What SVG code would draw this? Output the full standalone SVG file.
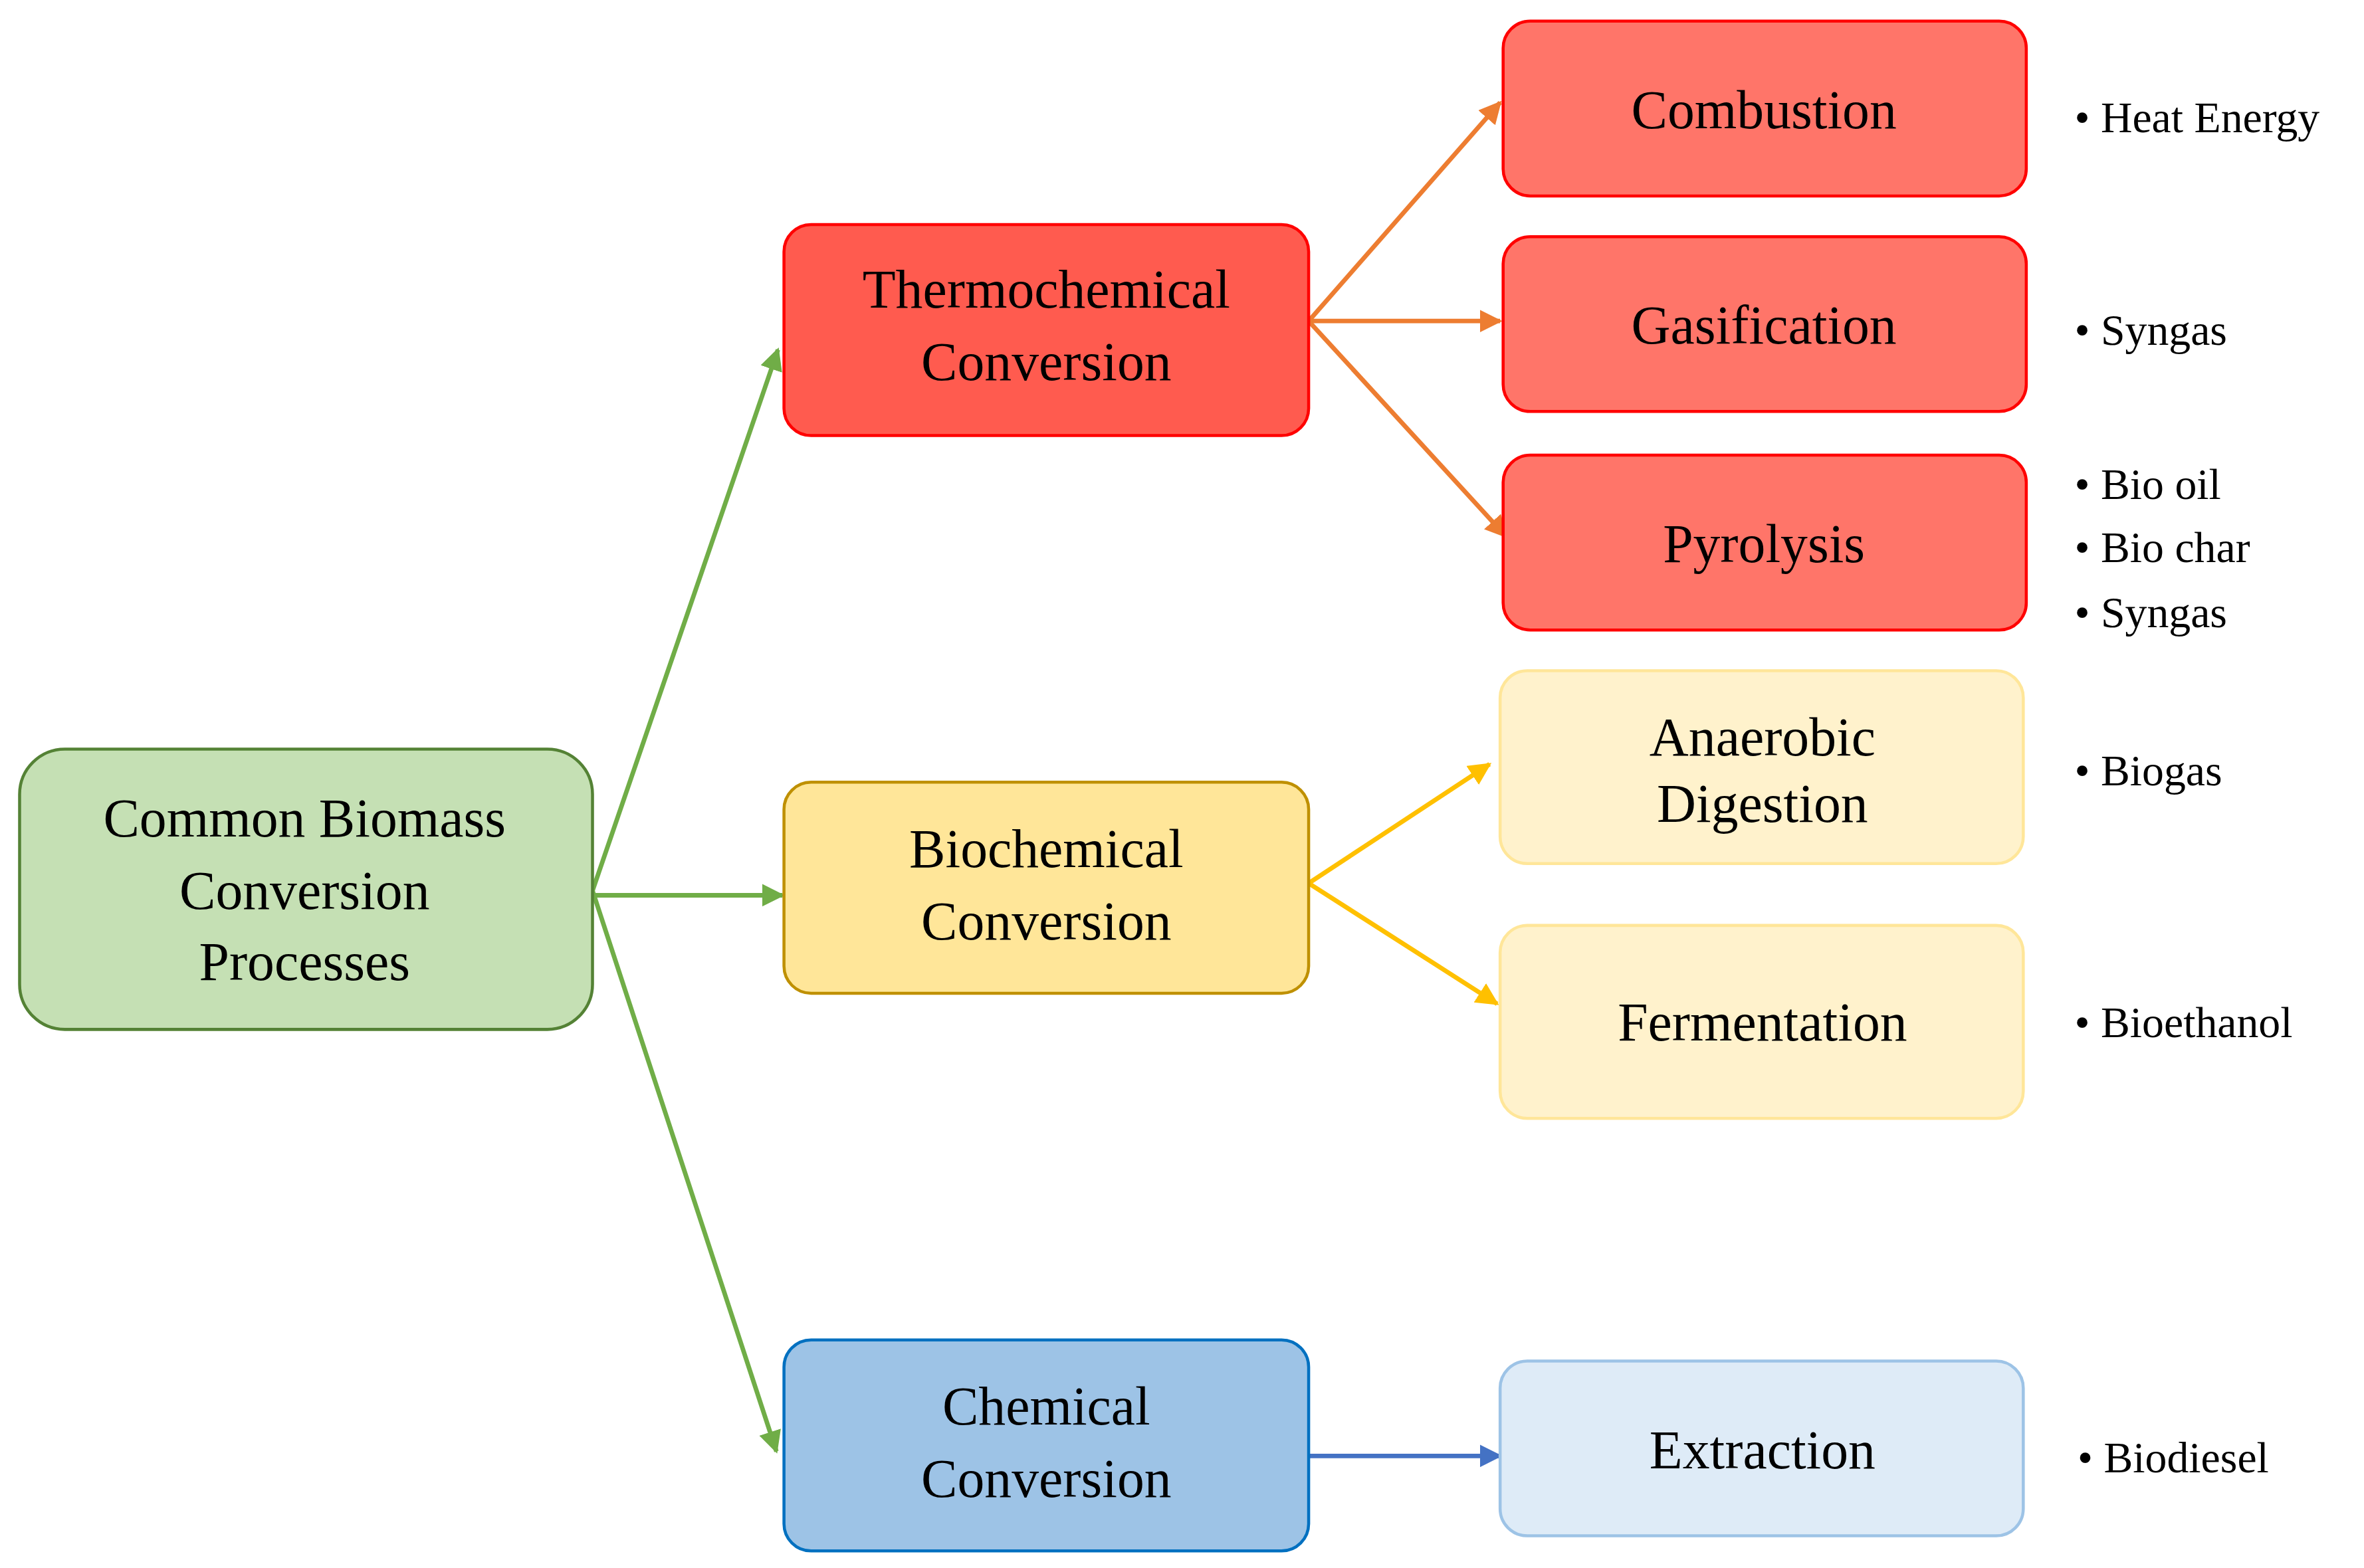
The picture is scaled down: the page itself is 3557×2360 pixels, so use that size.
<svg xmlns="http://www.w3.org/2000/svg" width="3557" height="2360" viewBox="0 0 3557 2360">
<style>
.t{font-family:"Liberation Serif",serif;font-size:36px;fill:#000;text-anchor:middle;dominant-baseline:central}
.b{font-family:"Liberation Serif",serif;font-size:29px;fill:#000;dominant-baseline:central}
.n{stroke-width:2}
.c{fill:none;stroke-width:3}
</style>
<defs>
<marker id="mg" viewBox="0 0 10 10" refX="9" refY="5" markerWidth="5" markerHeight="5" orient="auto"><path d="M0,0L10,5L0,10z" fill="#70ad47"/></marker>
<marker id="mo" viewBox="0 0 10 10" refX="9" refY="5" markerWidth="5" markerHeight="5" orient="auto"><path d="M0,0L10,5L0,10z" fill="#ed7d31"/></marker>
<marker id="my" viewBox="0 0 10 10" refX="9" refY="5" markerWidth="5" markerHeight="5" orient="auto"><path d="M0,0L10,5L0,10z" fill="#ffc000"/></marker>
<marker id="mb" viewBox="0 0 10 10" refX="9" refY="5" markerWidth="5" markerHeight="5" orient="auto"><path d="M0,0L10,5L0,10z" fill="#4472c4"/></marker>
</defs>
<rect width="3557" height="2360" fill="#fff"/>
<g transform="scale(2.2685)">
<g id="connectors">
<path class="c" stroke="#70ad47" marker-end="url(#mg)" d="M393,591L516,232"/>
<path class="c" stroke="#70ad47" marker-end="url(#mg)" d="M393,594L519,594"/>
<path class="c" stroke="#70ad47" marker-end="url(#mg)" d="M393,591L515,963"/>
<path class="c" stroke="#ed7d31" marker-end="url(#mo)" d="M868,213L995,68"/>
<path class="c" stroke="#ed7d31" marker-end="url(#mo)" d="M868,213L995,213"/>
<path class="c" stroke="#ed7d31" marker-end="url(#mo)" d="M868,213L999,356"/>
<path class="c" stroke="#ffc000" marker-end="url(#my)" d="M868,586L988,507"/>
<path class="c" stroke="#ffc000" marker-end="url(#my)" d="M868,586L993,666"/>
<path class="c" stroke="#4472c4" marker-end="url(#mb)" d="M868,966L995,966"/>
</g>
<g id="root"><rect class="n" x="13" y="497" width="380" height="186" rx="30" fill="#c5e0b4" stroke="#548235"/>
<text class="t" x="202" y="543">Common Biomass</text><text class="t" x="202" y="591">Conversion</text><text class="t" x="202" y="638">Processes</text></g>
<g id="thermo"><rect class="n" x="520" y="149" width="348" height="140" rx="18" fill="#ff5b4f" stroke="#ff0000"/>
<text class="t" x="694" y="192">Thermochemical</text><text class="t" x="694" y="240">Conversion</text></g>
<g id="bio"><rect class="n" x="520" y="519" width="348" height="140" rx="18" fill="#ffe699" stroke="#bf9000"/>
<text class="t" x="694" y="563">Biochemical</text><text class="t" x="694" y="611">Conversion</text></g>
<g id="chem"><rect class="n" x="520" y="889" width="348" height="140" rx="18" fill="#9dc3e6" stroke="#0070c0"/>
<text class="t" x="694" y="933">Chemical</text><text class="t" x="694" y="981">Conversion</text></g>
<g id="combustion"><rect class="n" x="997" y="14" width="347" height="116" rx="18" fill="#ff7569" stroke="#ff0000"/><text class="t" x="1170" y="73">Combustion</text></g>
<g id="gasification"><rect class="n" x="997" y="157" width="347" height="116" rx="18" fill="#ff7569" stroke="#ff0000"/><text class="t" x="1170" y="216">Gasification</text></g>
<g id="pyrolysis"><rect class="n" x="997" y="302" width="347" height="116" rx="18" fill="#ff7569" stroke="#ff0000"/><text class="t" x="1170" y="361">Pyrolysis</text></g>
<g id="anaerobic"><rect class="n" x="995" y="445" width="347" height="128" rx="18" fill="#fff2cc" stroke="#ffe699"/><text class="t" x="1169" y="489">Anaerobic</text><text class="t" x="1169" y="533">Digestion</text></g>
<g id="fermentation"><rect class="n" x="995" y="614" width="347" height="128" rx="18" fill="#fff2cc" stroke="#ffe699"/><text class="t" x="1169" y="678">Fermentation</text></g>
<g id="extraction"><rect class="n" x="995" y="903" width="347" height="116" rx="18" fill="#deebf7" stroke="#9dc3e6"/><text class="t" x="1169" y="962">Extraction</text></g>
<g id="outputs">
<text class="b" x="1376" y="78">• Heat Energy</text>
<text class="b" x="1376" y="219">• Syngas</text>
<text class="b" x="1376" y="321">• Bio oil</text>
<text class="b" x="1376" y="363">• Bio char</text>
<text class="b" x="1376" y="406">• Syngas</text>
<text class="b" x="1376" y="511">• Biogas</text>
<text class="b" x="1376" y="678">• Bioethanol</text>
<text class="b" x="1378" y="967">• Biodiesel</text>
</g>
</g>
</svg>
